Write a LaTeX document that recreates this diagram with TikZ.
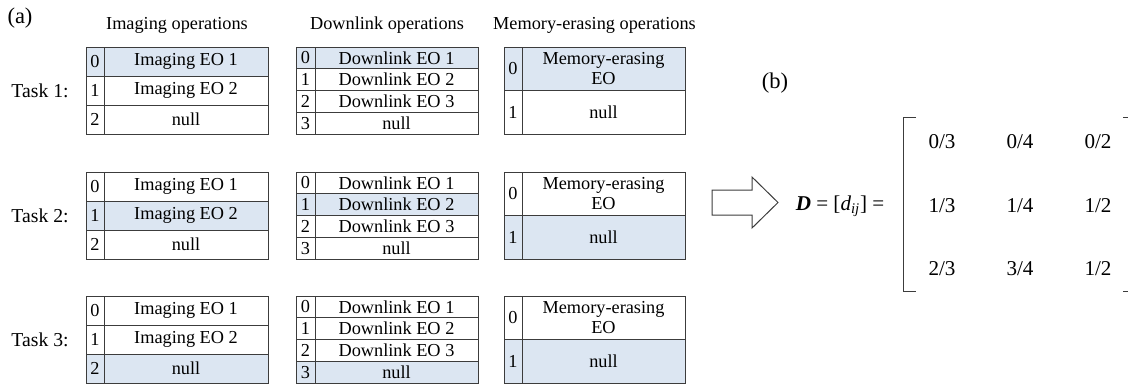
\documentclass[tikz,border=0pt]{standalone}
\usepackage{fontspec}
\setmainfont{Liberation Serif}
\definecolor{rowblue}{RGB}{220,230,242}
\definecolor{gridline}{RGB}{60,60,60}
\tikzset{
  cell/.style={draw=gridline, line width=0.7pt},
  tasklabel/.style={font=\fontsize{14}{16}\selectfont},
  partlabel/.style={font=\fontsize{16}{18}\selectfont},
  bigtext/.style={font=\fontsize{15}{17}\selectfont}
}

\begin{document}
\begin{tikzpicture}[x=0.025cm, y=-0.025cm, font=\fontsize{13}{14.5}\selectfont]
	%%%%% START %%%%%
	\useasboundingbox (0,0) rectangle (1128,384);
	
	\node[partlabel] (a) at (20,18) {(a)};
	\node (hdimg) at (177,25) {Imaging operations};
	\node (hddl) at (387,25) {Downlink operations};
	\node (hdmem) at (594.5,25) {Memory-erasing operations};
	
	\foreach \t/\y/\hi/\hd/\hm in {1/47/0/0/0, 2/172/1/1/1, 3/296/2/3/1}{
		\node[tasklabel] (task\t) at (40,\y+43.5) {Task \t:};
		
		% imaging
		\foreach \r/\txt in {0/Imaging EO 1, 1/Imaging EO 2, 2/null}{
			\ifnum\r=\hi\relax \def\rowfill{rowblue}\else \def\rowfill{white}\fi
			\draw[cell, fill=\rowfill] (86,\y+\r*29) rectangle (268,\y+\r*29+29);
			\draw[cell] (104,\y+\r*29) -- (104,\y+\r*29+29);
			\node (img\t-\r) at (95,\y+\r*29+14.5) {\r};
			\node (imgtxt\t-\r) at (186,\y+\r*29+14.5) {\txt};
		}
		
		% downlink
		\foreach \r/\txt in {0/Downlink EO 1, 1/Downlink EO 2, 2/Downlink EO 3, 3/null}{
			\ifnum\r=\hd\relax \def\rowfill{rowblue}\else \def\rowfill{white}\fi
			\draw[cell, fill=\rowfill] (296,\y+\r*21.75) rectangle (478,\y+\r*21.75+21.75);
			\draw[cell] (315,\y+\r*21.75) -- (315,\y+\r*21.75+21.75);
			\node (dl\t-\r) at (305.5,\y+\r*21.75+10.9) {\r};
			\node (dltxt\t-\r) at (396.5,\y+\r*21.75+10.9) {\txt};
		}
		
		% memory-erasing
		\foreach \r/\txt in {0/{Memory-erasing\\EO}, 1/null}{
			\ifnum\r=\hm\relax \def\rowfill{rowblue}\else \def\rowfill{white}\fi
			\draw[cell, fill=\rowfill] (504,\y+\r*43.5) rectangle (685,\y+\r*43.5+43.5);
			\draw[cell] (522,\y+\r*43.5) -- (522,\y+\r*43.5+43.5);
			\node (mem\t-\r) at (513,\y+\r*43.5+21.75) {\r};
			\node[align=center] (memtxt\t-\r) at (603.5,\y+\r*43.5+21.75) {\txt};
		}
	}
	
	\node[partlabel] (b) at (775,83) {(b)};
	
	% block arrow
	\draw[cell] (712,190) -- (752,190) -- (752,177) -- (778,202.5) -- (752,228) -- (752,215) -- (712,215) -- cycle;
	
	\node[bigtext] (eq) at (840,206) {\textbf{\textit{D}} = [\textit{d}\textsubscript{\textit{ij}}] =};
	
	% matrix
	\draw[cell] (916,117) -- (903,117) -- (903,291) -- (916,291);
	\draw[cell] (1123,117) -- (1128,117);
	\draw[cell] (1123,291) -- (1128,291);
	\foreach \r/\yy/\ea/\eb/\ec in {1/142/0/0/0, 2/206/1/1/1, 3/269/2/3/1}{
		\node[bigtext] (d\r-1) at (942,\yy) {\ea/3};
		\node[bigtext] (d\r-2) at (1020,\yy) {\eb/4};
		\node[bigtext] (d\r-3) at (1098,\yy) {\ec/2};
	}
	%%%%% END %%%%%
\end{tikzpicture}
\end{document}
